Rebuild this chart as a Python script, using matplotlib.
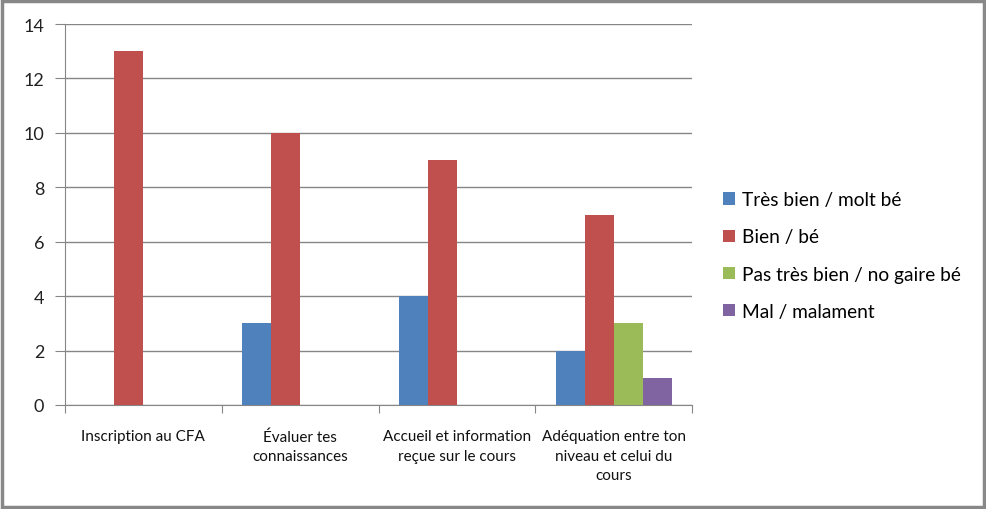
import numpy as np
import matplotlib.pyplot as plt
from matplotlib.patches import Rectangle

categories = ["Inscription au CFA", "Évaluer tes\nconnaissances",
              "Accueil et information\nreçue sur le cours",
              "Adéquation entre ton\nniveau et celui du\ncours"]
series = ["Très bien / molt bé", "Bien / bé", "Pas très bien / no gaire bé", "Mal / malament"]
tres_bien = [0, 3, 4, 2]
bien = [13, 10, 9, 7]
pas_tres_bien = [0, 0, 0, 3]
mal = [0, 0, 0, 1]
colors = ["#4F81BD", "#C0504D", "#9BBB59", "#8064A2"]

plt.rcParams['font.family'] = ['Lato', 'DejaVu Sans']

fig = plt.figure(figsize=(9.86, 5.10), dpi=100)
ax = fig.add_axes([65/986, 1-406/510, (692-65)/986, (406-25)/510])

x = np.arange(len(categories))
w = 0.185
for i, (vals, name) in enumerate(zip([tres_bien, bien, pas_tres_bien, mal], series)):
    ax.bar(x + (i - 1.5) * w, vals, w, color=colors[i], label=name, zorder=3)

ax.set_xlim(-0.5, 3.5)
ax.set_ylim(0, 14)
ax.set_yticks(range(0, 15, 2))
ax.grid(axis='y', color='#868686', linewidth=1, zorder=0)
ax.set_xticks(np.arange(-0.5, 4, 1))
ax.set_xticklabels([])
ax.tick_params(axis='x', length=6, color='#868686', direction='out')
ax.tick_params(axis='y', length=7, color='#868686', labelsize=13, pad=8)
for lab in ax.get_yticklabels():
    lab.set_color('#222222')
for s in ['top', 'right']:
    ax.spines[s].set_visible(False)
for s in ['left', 'bottom']:
    ax.spines[s].set_color('#868686')

for xi, cat in zip(x, categories):
    ax.text(xi, -0.9, cat, ha='center', va='top', fontsize=11, linespacing=1.5,
            transform=ax.transData, color='#111111')

leg = fig.legend(loc='upper left', bbox_to_anchor=(706/986, 1-175/510), frameon=False,
                 fontsize=13.8, handlelength=0.6, handleheight=0.6, handletextpad=0.4,
                 labelspacing=1.05)

fig.patches.append(Rectangle((0.002, 0.003), 0.996, 0.994, transform=fig.transFigure,
                             fill=False, edgecolor='#888888', linewidth=2.5))

fig.savefig('out.png', dpi=100)
